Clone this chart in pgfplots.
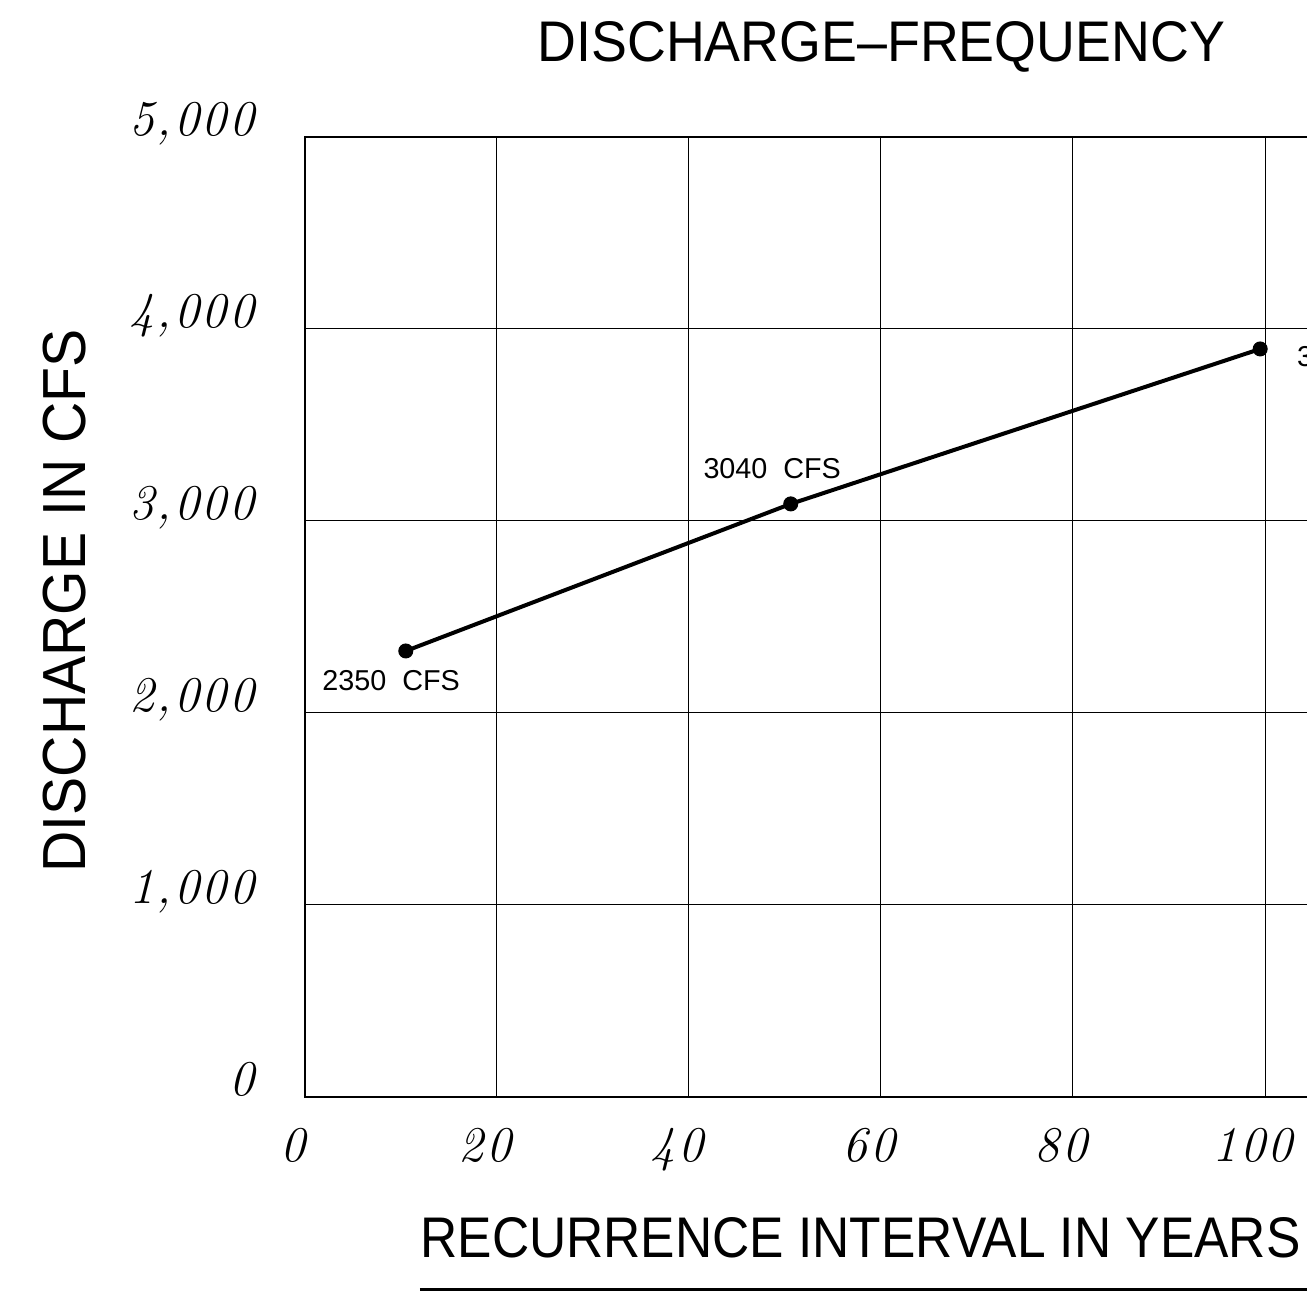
\documentclass[border=0pt]{standalone}
\usepackage{fontspec}
\usepackage{graphicx}
\usepackage{pgfplots}
\pgfplotsset{compat=1.18}
\newfontfamily\cad{Liberation Sans}
\newfontfamily\tickfont{Latin Modern Roman}[Numbers=Lining, LetterSpace=5]
\newcommand{\tl}[1]{\mbox{\fontsize{20}{24}\selectfont\tickfont\itshape #1}}
\begin{document}
\begin{tikzpicture}
\begin{axis}[
  anchor=origin, at={(0pt,0pt)},
  x=3.84pt, y=0.0768pt,
  xmin=0, xmax=110, ymin=0, ymax=5000,
  xtick={0,20,40,60,80,100},
  ytick={0,1000,2000,3000,4000,5000},
  xticklabels={{\tl{0}},{\tl{20}},{\tl{40}},{\tl{60}},{\tl{80}},{\tl{100}}},
  yticklabels={{\tl{0}},{\tl{1,000}},{\tl{2,000}},{\tl{3,000}},{\tl{4,000}},{\tl{5,000}}},
  xticklabel style={anchor=base, inner sep=0pt, xshift=-4.8pt, yshift=-26pt},
  yticklabel style={anchor=base east, inner sep=0pt, xshift=-20pt, yshift=0.4pt},
  grid=major,
  major grid style={black, line width=0.4pt},
  axis line style={line width=0.8pt},
  tick style={draw=none},
  clip=false,
]
\addplot[black, line width=1.6pt, mark=*, mark size=2.8pt, mark options={line width=0.4pt}]
  coordinates {(10.5,2323) (50.6,3089) (99.5,3896)};
\node[anchor=west, inner sep=0pt, font=\cad\fontsize{11.5}{13}\selectfont] at (axis cs:1.77,2167) {2350\ \ CFS};
\node[anchor=west, inner sep=0pt, font=\cad\fontsize{11.5}{13}\selectfont] at (axis cs:41.46,3271) {3040\ \ CFS};
\node[anchor=west, inner sep=0pt, font=\cad\fontsize{11.5}{13}\selectfont] at (axis cs:103.3,3854) {3900\ \ CFS};
\end{axis}
\node[anchor=base west, inner sep=0pt] at (92.8pt,414pt) {\resizebox{275pt}{16pt}{\cad DISCHARGE–FREQUENCY}};
\node[anchor=base west, inner sep=0pt] at (46pt,-64.4pt) {\resizebox{352pt}{16pt}{\cad RECURRENCE INTERVAL IN YEARS}};
\node[rotate=90, anchor=base west, inner sep=0pt] at (-87.6pt,89.6pt) {\resizebox{217.2pt}{17pt}{\cad DISCHARGE IN CFS}};
\draw[line width=1.2pt] (46pt,-77.2pt) -- (420pt,-77.2pt);
\pgfresetboundingbox
\path[use as bounding box] (-122pt,-80.4pt) rectangle (400.8pt,438.8pt);
\end{tikzpicture}
\end{document}
